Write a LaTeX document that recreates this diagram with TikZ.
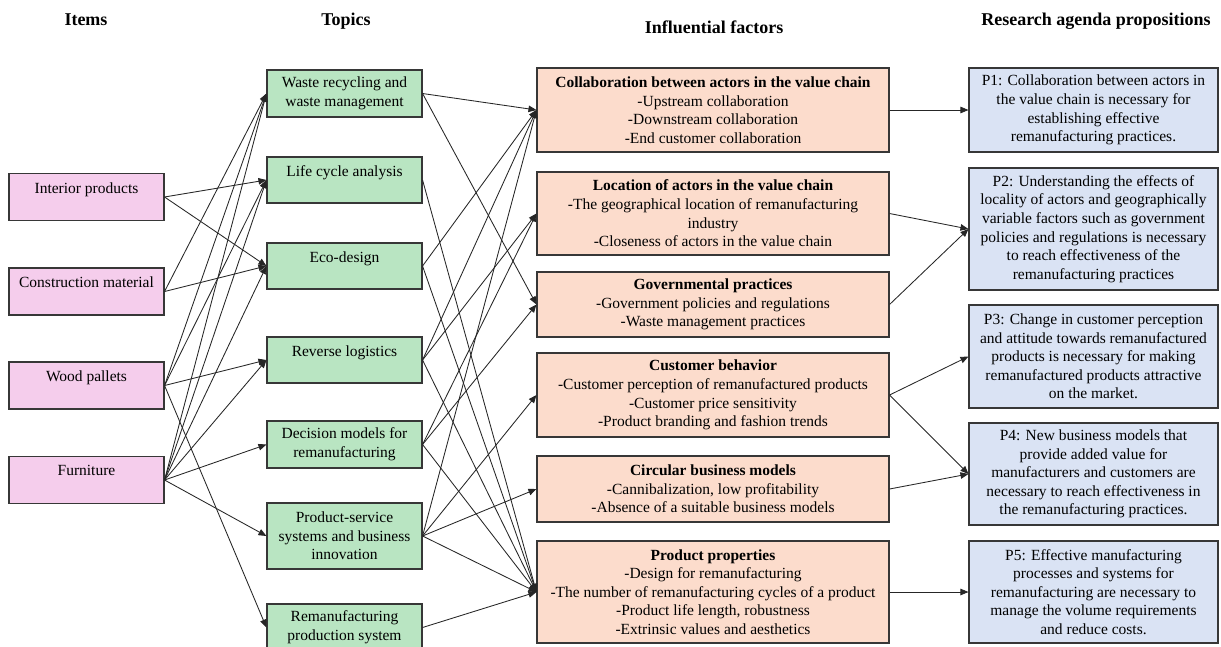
\documentclass[tikz,border=0pt]{standalone}
\usepackage{fontspec}
\setmainfont{Liberation Serif}
\usetikzlibrary{arrows.meta}
\definecolor{itemcol}{RGB}{245,205,236}
\definecolor{topiccol}{RGB}{185,229,194}
\definecolor{factcol}{RGB}{252,220,204}
\definecolor{propcol}{RGB}{218,227,244}
\definecolor{edgecol}{RGB}{55,55,55}
\begin{document}
\begin{tikzpicture}[x=1pt,y=-1pt,
  box/.style={draw=edgecol, line width=1.1pt, inner sep=0pt, align=center, font=\fontsize{15.5}{18.6}\selectfont},
  item/.style={box, fill=itemcol, minimum width=155pt, minimum height=47pt},
  topic/.style={box, fill=topiccol, minimum width=155pt},
  fact/.style={box, fill=factcol, minimum width=352pt},
  prop/.style={box, fill=propcol, minimum width=249pt},
  head/.style={font=\fontsize{18}{21}\selectfont\bfseries, inner sep=0pt},
  arr/.style={-{Triangle[length=8pt,width=6.5pt]}, line width=0.85pt, draw=black!85}]
\useasboundingbox (0,0) rectangle (1221,646);
\fill[white] (0,0) rectangle (1221,646);

% headers
\node[head] (hItems) at (86,20) {Items};
\node[head] (hTopics) at (346,21) {Topics};
\node[head] (hFact) at (714,27) {Influential factors};
\node[head] (hProp) at (1096,21) {Research agenda propositions};

% items
\node[item] (iInt) at (86.5,197) {Interior products\\\mbox{}};
\node[item] (iCon) at (86.5,291.5) {Construction material\\\mbox{}};
\node[item] (iWood) at (86.5,385.5) {Wood pallets\\\mbox{}};
\node[item] (iFur) at (86.5,480) {Furniture\\\mbox{}};

% topics
\node[topic, minimum height=47pt] (tWaste) at (344.5,93.5) {Waste recycling and\\waste management};
\node[topic, minimum height=46pt] (tLCA) at (344.5,180) {Life cycle analysis\\\mbox{}};
\node[topic, minimum height=46pt] (tEco) at (344.5,266) {Eco-design\\\mbox{}};
\node[topic, minimum height=46pt] (tRL) at (344.5,360) {Reverse logistics\\\mbox{}};
\node[topic, minimum height=47pt] (tDM) at (344.5,444.5) {Decision models for\\remanufacturing};
\node[topic, minimum height=66pt] (tPSS) at (344.5,536) {Product-service\\systems and business\\innovation};
\node[topic, minimum height=47pt] (tRPS) at (344.5,627.5) {Remanufacturing\\production system};

% factors
\node[fact, minimum height=84pt] (fCol) at (713,110) {\textbf{Collaboration between actors in the value chain}\\-Upstream collaboration\\-Downstream collaboration\\-End customer collaboration};
\node[fact, minimum height=83pt] (fLoc) at (713,213.5) {\textbf{Location of actors in the value chain}\\-The geographical location of remanufacturing\\industry\\-Closeness of actors in the value chain};
\node[fact, minimum height=65pt] (fGov) at (713,304.5) {\textbf{Governmental practices}\\-Government policies and regulations\\-Waste management practices};
\node[fact, minimum height=84pt] (fCus) at (713,395) {\textbf{Customer behavior}\\-Customer perception of remanufactured products\\-Customer price sensitivity\\-Product branding and fashion trends};
\node[fact, minimum height=66pt] (fCir) at (713,489) {\textbf{Circular business models}\\-Cannibalization, low profitability\\-Absence of a suitable business models};
\node[fact, minimum height=102pt] (fPro) at (713,592) {\textbf{Product properties}\\-Design for remanufacturing\\-The number of remanufacturing cycles of a product\\-Product life length, robustness\\-Extrinsic values and aesthetics};

% propositions
\node[prop, minimum height=84pt] (p1) at (1093.5,110) {P1: Collaboration between actors in\\the value chain is necessary for\\establishing effective\\remanufacturing practices.};
\node[prop, minimum height=122pt] (p2) at (1093.5,229) {P2: Understanding the effects of\\locality of actors and geographically\\variable factors such as government\\policies and regulations is necessary\\to reach effectiveness of the\\remanufacturing practices};
\node[prop, minimum height=103pt] (p3) at (1093.5,356.5) {P3: Change in customer perception\\and attitude towards remanufactured\\products is necessary for making\\remanufactured products attractive\\on the market.};
\node[prop, minimum height=102pt] (p4) at (1093.5,474) {P4: New business models that\\provide added value for\\manufacturers and customers are\\necessary to reach effectiveness in\\the remanufacturing practices.};
\node[prop, minimum height=102pt] (p5) at (1093.5,592) {P5: Effective manufacturing\\processes and systems for\\remanufacturing are necessary to\\manage the volume requirements\\and reduce costs.};

% items -> topics
\draw[arr] (iInt.east) -- (tLCA.west);
\draw[arr] (iInt.east) -- (tEco.west);
\draw[arr] (iCon.east) -- (tWaste.west);
\draw[arr] (iCon.east) -- (tEco.west);
\draw[arr] (iWood.east) -- (tWaste.west);
\draw[arr] (iWood.east) -- (tLCA.west);
\draw[arr] (iWood.east) -- (tRL.west);
\draw[arr] (iWood.east) -- (tRPS.west);
\draw[arr] (iFur.east) -- (tWaste.west);
\draw[arr] (iFur.east) -- (tLCA.west);
\draw[arr] (iFur.east) -- (tEco.west);
\draw[arr] (iFur.east) -- (tRL.west);
\draw[arr] (iFur.east) -- (tDM.west);
\draw[arr] (iFur.east) -- (tPSS.west);

% topics -> factors
\draw[arr] (tWaste.east) -- (fCol.west);
\draw[arr] (tWaste.east) -- (fGov.west);
\draw[arr] (tLCA.east) -- (fPro.west);
\draw[arr] (tEco.east) -- (fCol.west);
\draw[arr] (tEco.east) -- (fPro.west);
\draw[arr] (tRL.east) -- (fCol.west);
\draw[arr] (tRL.east) -- (fLoc.west);
\draw[arr] (tRL.east) -- (fPro.west);
\draw[arr] (tDM.east) -- (fLoc.west);
\draw[arr] (tDM.east) -- (fGov.west);
\draw[arr] (tDM.east) -- (fPro.west);
\draw[arr] (tPSS.east) -- (fCol.west);
\draw[arr] (tPSS.east) -- (fCus.west);
\draw[arr] (tPSS.east) -- (fCir.west);
\draw[arr] (tPSS.east) -- (fPro.west);
\draw[arr] (tRPS.east) -- (fPro.west);

% factors -> propositions
\draw[arr] (fCol.east) -- (p1.west);
\draw[arr] (fLoc.east) -- (p2.west);
\draw[arr] (fGov.east) -- (p2.west);
\draw[arr] (fCus.east) -- (p3.west);
\draw[arr] (fCus.east) -- (p4.west);
\draw[arr] (fCir.east) -- (p4.west);
\draw[arr] (fPro.east) -- (p5.west);
\end{tikzpicture}
\end{document}
